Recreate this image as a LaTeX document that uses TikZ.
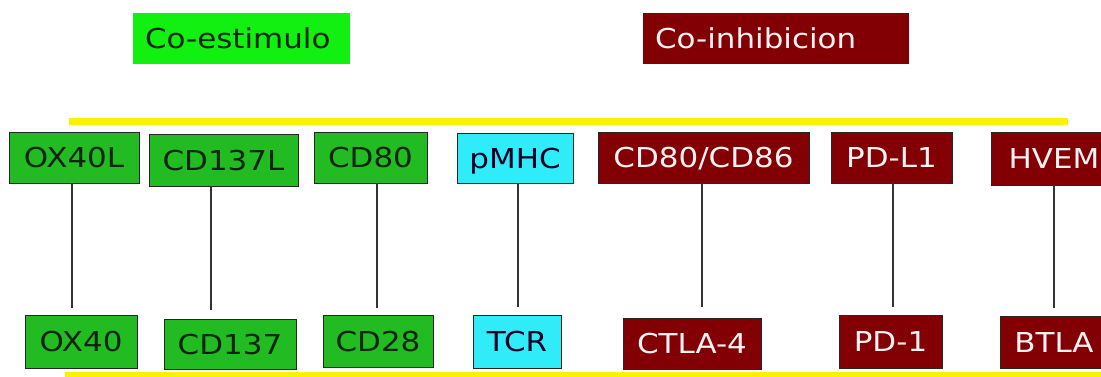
\documentclass[tikz,border=0pt]{standalone}
\usepackage{fontspec}
\setmainfont{DejaVu Sans}[FakeStretch=1.13]
\usepackage{tikz}
\usepackage{xcolor}
\usetikzlibrary{positioning}
\definecolor{stimcol}{HTML}{22BB22}
\definecolor{stimhead}{HTML}{11F011}
\definecolor{inhcol}{HTML}{820004}
\definecolor{tcrcol}{HTML}{30ECF8}
\definecolor{railcol}{HTML}{FAF200}
\definecolor{darktxt}{HTML}{0C240C}

\begin{document}
\begin{tikzpicture}[
  x=1pt, y=-1pt,
  every node/.style={font=\fontsize{27.4}{30}\selectfont, text height=20pt, text depth=0pt, inner sep=0pt},
  stimnode/.style={draw=black!85, line width=0.9pt, fill=stimcol, text=darktxt, minimum height=51pt},
  inhnode/.style={draw=black!85, line width=0.9pt, fill=inhcol, text=white!95!red, minimum height=51pt},
  tcrnode/.style={draw=black!85, line width=0.9pt, fill=tcrcol, text=black!85!blue, minimum height=50pt},
  headnode/.style={minimum height=51pt, align=left},
  link/.style={draw=black!80, line width=1.2pt},
  rail/.style={draw=railcol, line width=7pt},
]
\useasboundingbox (0,0) rectangle (1101,376);

% Headers
\node[headnode, fill=stimhead, text=darktxt, minimum width=217pt, text width=193pt] (COS) at (241.5,38) {Co-estimulo};
\node[headnode, fill=inhcol, text=white!95!red, minimum width=266pt, text width=242pt] (COI) at (776,38) {Co-inhibicion};

% Rails
\draw[rail] (69,121) -- (1068,121);
\draw[rail] (65,375) -- (1101,375);

% Ligand row
\node[stimnode, minimum width=130pt] (OXL) at (74,157.5) {OX40L};
\node[stimnode, minimum width=149pt, minimum height=52pt] (CDL) at (223.5,160) {CD137L};
\node[stimnode, minimum width=113pt] (CDE) at (370.5,157.5) {CD80};
\node[tcrnode,  minimum width=116pt] (PMH) at (515,158) {pMHC};
\node[inhnode,  minimum width=211pt] (CDB) at (703.5,157.5) {CD80/CD86};
\node[inhnode,  minimum width=121pt] (PDL) at (891.5,157.5) {PD-L1};
\node[inhnode,  minimum width=126pt, minimum height=53pt] (HVM) at (1054,158.5) {HVEM};

% Receptor row
\node[stimnode, minimum width=112pt, minimum height=53pt] (OXR) at (81,341.5) {OX40};
\node[stimnode, minimum width=132pt, minimum height=50pt] (CDR) at (230,344) {CD137};
\node[stimnode, minimum width=110pt, minimum height=52pt] (CDT) at (378,341) {CD28};
\node[tcrnode,  minimum width=88pt,  minimum height=53pt] (TCR) at (517,341.5) {TCR};
\node[inhnode,  minimum width=138pt] (CTL) at (692,343.5) {CTLA-4};
\node[inhnode,  minimum width=103pt, minimum height=53pt] (PDO) at (890.5,341.5) {PD-1};
\node[inhnode,  minimum width=108pt, minimum height=52pt] (BTL) at (1054,342) {BTLA};

% --- links ---
\draw[link] ([xshift=-2]OXL.south) -- ([xshift=-9,yshift=7]OXR.north);
\draw[link] ([xshift=-12.5]CDL.south) -- ([xshift=-19,yshift=9]CDR.north);
\draw[link] ([xshift=6.5]CDE.south) -- ([xshift=-1,yshift=7]CDT.north);
\draw[link] ([xshift=3]PMH.south) -- ([xshift=1,yshift=8]TCR.north);
\draw[link] ([xshift=-1.5]CDB.south) -- ([xshift=10,yshift=11]CTL.north);
\draw[link] ([xshift=1.5]PDL.south) -- ([xshift=2.5,yshift=8]PDO.north);
\draw[link] (HVM.south) -- ([yshift=8]BTL.north);

\end{tikzpicture}
\end{document}
